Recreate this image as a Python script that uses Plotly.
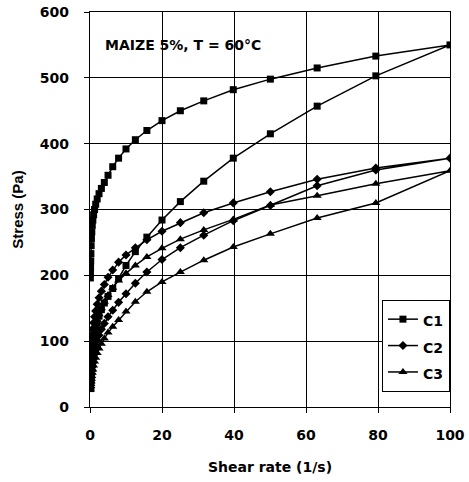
import plotly.graph_objects as go

shear_rate = [0.1, 0.126, 0.158, 0.2, 0.251, 0.316, 0.398, 0.501, 0.631, 0.794,
              1.0, 1.26, 1.58, 2.0, 2.51, 3.16, 3.98, 5.01, 6.31, 7.94,
              10.0, 12.6, 15.8, 20.0, 25.1, 31.6, 39.8, 50.1, 63.1, 79.4, 100.0]

c1_up = [28, 32, 36, 41, 47, 54, 62, 70, 79, 88, 98, 108, 118, 128, 138, 148, 158, 168,
         180, 195, 215, 236, 258, 284, 312, 343, 378, 415, 457, 503, 550]
c1_down = [196, 203, 212, 222, 233, 245, 256, 266, 276, 284, 292, 300, 308, 316, 324, 332,
           341, 352, 365, 378, 392, 406, 420, 435, 450, 465, 482, 498, 515, 533, 550]
c2_up = [30, 33, 36, 40, 44, 49, 54, 60, 66, 72, 79, 86, 93, 101, 109, 118, 127, 137,
         147, 159, 172, 188, 205, 224, 242, 261, 283, 306, 336, 360, 378]
c2_down = [60, 65, 70, 76, 82, 89, 96, 103, 111, 119, 128, 137, 146, 156, 166, 176, 186,
           197, 208, 220, 231, 242, 254, 267, 280, 295, 310, 327, 346, 363, 378]
c3_up = [26, 28, 30, 32, 35, 39, 43, 47, 52, 57, 63, 69, 75, 82, 89, 96, 104, 113, 122,
         132, 145, 160, 175, 190, 205, 223, 243, 263, 287, 310, 359]
c3_down = [54, 58, 62, 66, 71, 76, 82, 88, 94, 101, 108, 116, 124, 132, 141, 150, 160, 170,
           181, 192, 203, 215, 228, 241, 255, 269, 285, 307, 321, 339, 359]

series_names = ["C1", "C2", "C3"]
x_ticks = [0, 20, 40, 60, 80, 100]
y_ticks = [0, 100, 200, 300, 400, 500, 600]

HFONT = "DejaVu Sans"
VFONT = "Liberation Sans, Arial"

def loop(up, down):
    xs = shear_rate + shear_rate[::-1][1:]
    ys = up + down[::-1][1:]
    return xs, ys

fig = go.Figure()
specs = [(c1_up, c1_down, "square", 7), (c2_up, c2_down, "diamond", 7),
         (c3_up, c3_down, "triangle-up", 8)]
for name, (up, down, sym, sz) in zip(series_names, specs):
    xs, ys = loop(up, down)
    fig.add_trace(go.Scatter(
        x=xs, y=ys, name="<span style='font-size:14px'>" + name + "</span>",
        mode="lines+markers",
        line=dict(color="black", width=1.5),
        marker=dict(symbol=sym, size=sz, color="black"),
    ))

axis_common = dict(
    showgrid=True, gridcolor="black", gridwidth=1,
    showline=True, linecolor="black", linewidth=1.2, mirror=True,
    ticks="outside", ticklen=5, tickcolor="black", tickwidth=1,
    zeroline=False,
    tickfont=dict(family=HFONT, size=14, color="black", weight="bold"),
)

fig.update_xaxes(range=[0, 100], tickvals=x_ticks, ticklabelstandoff=10,
                 title=dict(text="Shear rate (1/s)", standoff=20,
                            font=dict(family=HFONT, size=14, color="black", weight="bold")),
                 **axis_common)
fig.update_yaxes(range=[0, 600], tickvals=y_ticks, ticklabelstandoff=12,
                 title=dict(text="Stress (Pa)", standoff=12,
                            font=dict(family=VFONT, size=15, color="black", weight="bold")),
                 **axis_common)

fig.add_annotation(text="MAIZE 5%, T = 60°C", xref="paper", yref="paper",
                   x=0.036, y=0.916, xanchor="left", yanchor="middle", showarrow=False,
                   font=dict(family=HFONT, size=14, color="black", weight="bold"))

fig.update_layout(
    width=469, height=482,
    margin=dict(l=90, r=19, t=12, b=75, autoexpand=False),
    plot_bgcolor="white", paper_bgcolor="white",
    showlegend=True,
    legend=dict(x=0.811, y=0.271, xanchor="left", yanchor="top",
                bgcolor="white", bordercolor="black", borderwidth=1,
                font=dict(family=HFONT, size=18, color="black", weight="bold"),
                itemwidth=30),
)

fig.write_html("out.html")
